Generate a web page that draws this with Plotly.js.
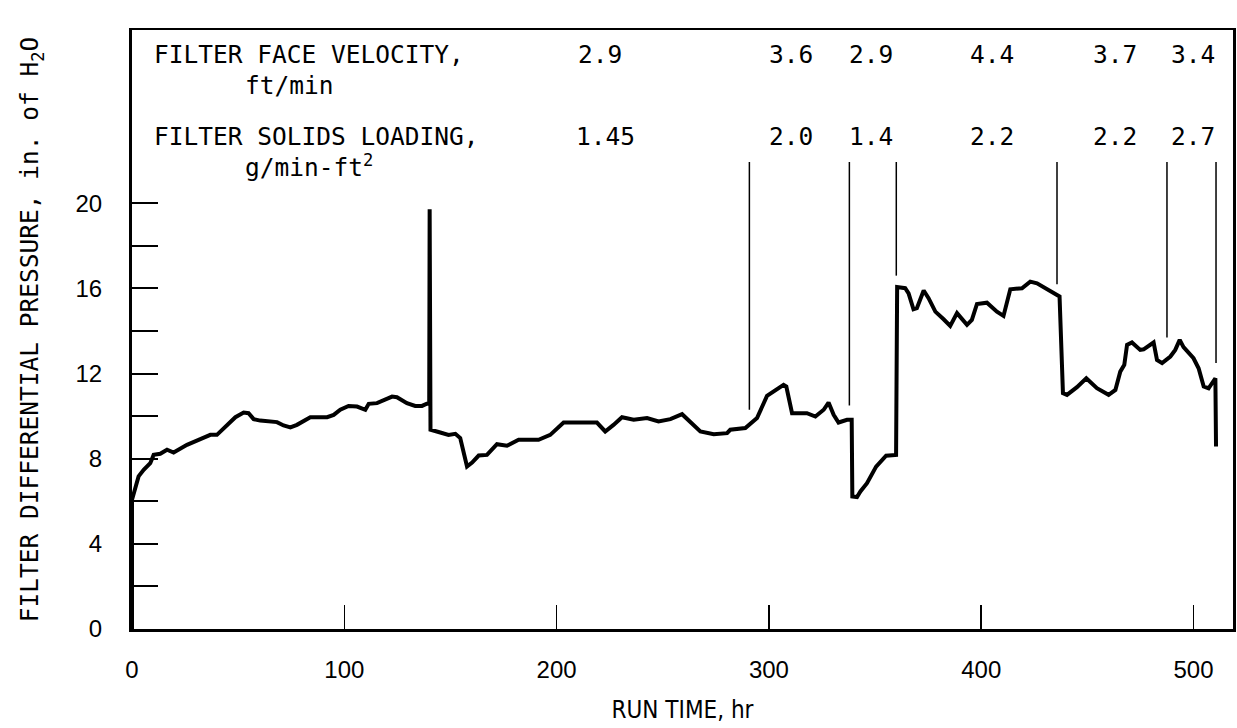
<!DOCTYPE html>
<html>
<head>
<meta charset="utf-8">
<script src="https://cdn.plot.ly/plotly-3.0.1.min.js"></script>
<style>
  html, body { margin: 0; padding: 0; background: #ffffff; }
  #chart { width: 1237px; height: 728px; }
</style>
</head>
<body>
<div id="chart"></div>
<script>
// ---- Data ----
const runTime = [0, 0, 3.1, 5.5, 8.6, 10.2, 13.3, 16.5, 19.6, 25.9, 32.2, 36.9, 40.0, 44.7, 48.7, 52.6, 54.9, 57.3, 60.4, 68.3, 71.4, 74.6, 77.7, 84.0, 87.1, 91.9, 95.0, 98.1, 102.0, 106.0, 109.9, 111.5, 115.4, 118.5, 122.5, 124.8, 129.5, 133.4, 136.6, 138.9, 140.0, 140.2, 140.6, 145.2, 149.1, 152.3, 154.6, 157.8, 160.2, 163.3, 167.2, 171.9, 176.6, 182.1, 191.5, 197.0, 203.3, 219.0, 222.9, 226.8, 230.8, 236.3, 242.6, 248.0, 253.6, 259.1, 263.0, 267.7, 274.0, 280.3, 281.8, 286.5, 288.9, 294.4, 299.1, 306.9, 308.2, 310.9, 317.9, 321.9, 325.8, 328.1, 330.5, 332.8, 336.8, 339.0, 339.3, 341.5, 343.1, 346.2, 350.5, 355.2, 359.9, 360.4, 364.2, 365.8, 368.1, 369.7, 372.9, 375.2, 378.4, 382.3, 385.4, 388.6, 390.9, 393.3, 395.6, 398.0, 402.7, 407.4, 410.5, 412.2, 413.7, 419.2, 423.1, 426.3, 432.5, 436.9, 438.5, 440.4, 445.1, 449.5, 454.5, 460.0, 463.2, 465.5, 467.4, 468.7, 471.0, 474.9, 476.5, 478.8, 481.2, 482.8, 485.2, 489.1, 491.4, 493.5, 495.3, 500.0, 502.4, 504.8, 507.1, 510.3, 510.6];
const pressure = [0, 6.07, 7.17, 7.48, 7.79, 8.18, 8.23, 8.42, 8.29, 8.65, 8.92, 9.12, 9.12, 9.59, 9.95, 10.17, 10.14, 9.86, 9.79, 9.72, 9.56, 9.47, 9.59, 9.95, 9.95, 9.95, 10.06, 10.30, 10.48, 10.45, 10.30, 10.58, 10.61, 10.73, 10.92, 10.89, 10.61, 10.48, 10.48, 10.58, 10.60, 19.72, 9.36, 9.23, 9.12, 9.17, 8.97, 7.63, 7.82, 8.15, 8.18, 8.68, 8.61, 8.89, 8.89, 9.12, 9.70, 9.70, 9.28, 9.59, 9.95, 9.83, 9.91, 9.75, 9.86, 10.09, 9.75, 9.28, 9.15, 9.20, 9.36, 9.44, 9.44, 9.91, 10.95, 11.47, 11.39, 10.14, 10.14, 9.98, 10.30, 10.64, 10.06, 9.70, 9.83, 9.83, 6.23, 6.20, 6.46, 6.85, 7.63, 8.14, 8.18, 16.06, 16.01, 15.77, 15.02, 15.07, 15.90, 15.54, 14.91, 14.55, 14.24, 14.84, 14.60, 14.29, 14.52, 15.27, 15.33, 14.91, 14.71, 15.46, 15.96, 16.01, 16.32, 16.24, 15.85, 15.62, 11.08, 11.00, 11.36, 11.78, 11.31, 11.00, 11.23, 12.09, 12.41, 13.35, 13.46, 13.11, 13.14, 13.30, 13.46, 12.64, 12.49, 12.80, 13.11, 13.58, 13.24, 12.72, 12.25, 11.39, 11.31, 11.78, 8.57];

// condition change markers (thin vertical lines)
const dividerTime = [290.8, 337.9, 360.0, 435.7, 487.5, 510.6];
const dividerTop = [21.94, 21.94, 21.94, 21.94, 21.94, 21.94];
const dividerBottom = [10.3, 10.5, 16.6, 16.2, 13.7, 12.5];

// operating-condition labels per segment
const segmentLabelTime = [220.6, 310.5, 348.2, 405.2, 463.2, 499.9];
const loadingLabelTime = [222.9, 310.5, 348.2, 405.2, 463.2, 499.9];
const faceVelocity = ['2.9', '3.6', '2.9', '4.4', '3.7', '3.4'];
const solidsLoading = ['1.45', '2.0', '1.4', '2.2', '2.2', '2.7'];

const yTickVals = [0, 4, 8, 12, 16, 20];
const yTickText = ['0', '4', '8', '12', '16', '20'];
const yMinorTickVals = [2, 6, 10, 14, 18];
const xTickVals = [0, 100, 200, 300, 400, 500];
const xTickText = ['0', '100', '200', '300', '400', '500'];

// ---- Build traces ----
const dx = [], dy = [];
for (let i = 0; i < dividerTime.length; i++) {
  dx.push(dividerTime[i], dividerTime[i], null);
  dy.push(dividerTop[i], dividerBottom[i], null);
}

const traces = [
  { x: dx, y: dy, type: 'scatter', mode: 'lines', line: { color: '#000', width: 1.5 },
    hoverinfo: 'skip', showlegend: false, connectgaps: false },
  { x: runTime, y: pressure, type: 'scatter', mode: 'lines',
    line: { color: '#000', width: 4, shape: 'linear' }, showlegend: false }
];

const mono = 'DejaVu Sans Mono, Liberation Mono, monospace';
const annFont = { family: mono, size: 24.5, color: '#000' };
const annotations = [
  { x: 9.6, y: 27.0, text: 'FILTER FACE VELOCITY,', xanchor: 'left' },
  { x: 52.5, y: 25.55, text: 'ft/min', xanchor: 'left' },
  { x: 9.6, y: 23.15, text: 'FILTER SOLIDS LOADING,', xanchor: 'left' },
  { x: 52.5, y: 21.75, text: 'g/min-ft<sup>2</sup>', xanchor: 'left' }
];
faceVelocity.forEach((v, i) => annotations.push({ x: segmentLabelTime[i], y: 27.0, text: v, xanchor: 'center' }));
solidsLoading.forEach((v, i) => annotations.push({ x: loadingLabelTime[i], y: 23.15, text: v, xanchor: 'center' }));
annotations.forEach(a => { a.xref = 'x'; a.yref = 'y'; a.yanchor = 'middle'; a.showarrow = false; a.font = annFont; });

const layout = {
  width: 1237, height: 728,
  margin: { l: 132, r: 4, t: 30, b: 99, pad: 0 },
  paper_bgcolor: '#fff', plot_bgcolor: '#fff',
  showlegend: false,
  xaxis: {
    range: [0, 518.6], autorange: false,
    showgrid: false, zeroline: false,
    showline: true, linecolor: '#000', linewidth: 2.5, mirror: true,
    ticks: 'inside', ticklen: 24, tickwidth: 1.5, tickcolor: '#000',
    tickvals: xTickVals, ticktext: xTickText,
    tickfont: { family: 'Liberation Sans, Arial, sans-serif', size: 24, color: '#000' },
    ticklabelstandoff: 18,
    title: { text: 'RUN TIME, hr', font: { family: 'DejaVu Sans Condensed, Liberation Sans Narrow, sans-serif', size: 24, color: '#000' }, standoff: 19 },
    automargin: false
  },
  yaxis: {
    range: [0, 28.14], autorange: false,
    showgrid: false, zeroline: false,
    showline: true, linecolor: '#000', linewidth: 3, mirror: true,
    ticks: 'inside', ticklen: 26, tickwidth: 2, tickcolor: '#000',
    tickvals: yTickVals, ticktext: yTickText,
    minor: { tickvals: yMinorTickVals, ticks: 'inside', ticklen: 26, tickwidth: 2, tickcolor: '#000', showgrid: false },
    tickfont: { family: 'Liberation Sans, Arial, sans-serif', size: 24, color: '#000' },
    ticklabelstandoff: 22,
    title: { text: 'FILTER DIFFERENTIAL PRESSURE, in. of H<sub>2</sub>O', font: { family: mono, size: 24.5, color: '#000' }, standoff: 30 },
    automargin: false
  },
  annotations: annotations
};

Plotly.newPlot('chart', traces, layout, { displayModeBar: false, staticPlot: true });
</script>
</body>
</html>
